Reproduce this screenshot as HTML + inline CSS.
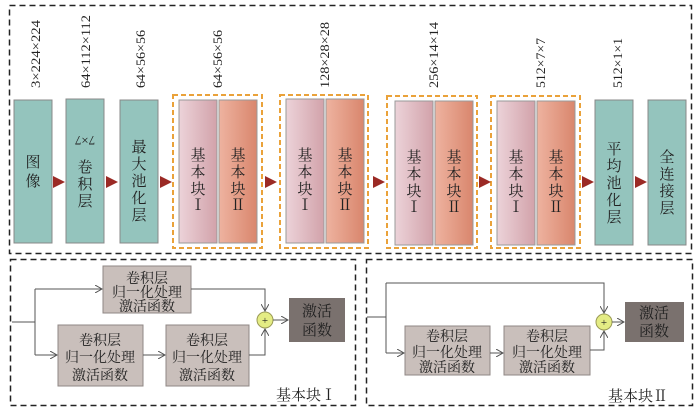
<!DOCTYPE html>
<html><head><meta charset="utf-8"><style>
body{margin:0;background:#fff;}
svg text{font-family:"Liberation Serif","Noto Serif CJK SC",serif;fill:#222;}
</style></head><body>
<svg width="700" height="412" viewBox="0 0 700 412" xmlns="http://www.w3.org/2000/svg">
<defs>
<linearGradient id="pk" x1="0" x2="1"><stop offset="0" stop-color="#ecd3d9"/><stop offset="1" stop-color="#d2a2aa"/></linearGradient>
<linearGradient id="or" x1="0" x2="1"><stop offset="0" stop-color="#eeb3a0"/><stop offset="1" stop-color="#d9866d"/></linearGradient>
<marker id="ah" markerWidth="8" markerHeight="8" refX="7" refY="4" orient="auto" markerUnits="userSpaceOnUse"><path d="M0,0 L7,4 L0,8" fill="none" stroke="#555" stroke-width="1"/></marker>
</defs>
<rect x="9.5" y="5.5" width="682" height="248" fill="none" stroke="#222" stroke-width="1.5" stroke-dasharray="6,4"/>
<rect x="10.5" y="259.5" width="345" height="146" fill="none" stroke="#222" stroke-width="1.5" stroke-dasharray="6,4"/>
<rect x="366.5" y="259.5" width="326" height="146" fill="none" stroke="#222" stroke-width="1.5" stroke-dasharray="6,4"/>
<g fill="#94c4bd" stroke="#888" stroke-width="1">
<rect x="14" y="100" width="38" height="143"/><rect x="66" y="99" width="38" height="144"/><rect x="120" y="100" width="38" height="143"/>
<rect x="595" y="100" width="38" height="145"/><rect x="648" y="100" width="38" height="145"/>
</g>
<g fill="none" stroke="#eaa23a" stroke-width="2" stroke-dasharray="5,3">
<rect x="173" y="95" width="89" height="153"/><rect x="280" y="95" width="88" height="153"/><rect x="387" y="96" width="90" height="152"/><rect x="491" y="96" width="89" height="152"/>
</g>
<g stroke="#999" stroke-width="1">
<rect x="179" y="100" width="38" height="143" fill="url(#pk)"/><rect x="219" y="100" width="38" height="143" fill="url(#or)"/>
<rect x="286" y="99" width="38" height="144" fill="url(#pk)"/><rect x="326" y="99" width="38" height="144" fill="url(#or)"/>
<rect x="395" y="101" width="38" height="144" fill="url(#pk)"/><rect x="435" y="101" width="38" height="144" fill="url(#or)"/>
<rect x="497" y="101" width="38" height="144" fill="url(#pk)"/><rect x="537" y="101" width="38" height="144" fill="url(#or)"/>
</g>
<g fill="#9b2a25">
<path d="M53,176 L65,182 L53,188Z"/><path d="M106,176 L118,182 L106,188Z"/><path d="M160,176 L172,182 L160,188Z"/><path d="M265,176 L277,182 L265,188Z"/><path d="M373,176 L385,182 L373,188Z"/><path d="M479,176 L491,182 L479,188Z"/><path d="M582,176 L594,182 L582,188Z"/><path d="M635,176 L647,182 L635,188Z"/>
</g>
<g font-size="15" text-anchor="middle">
<text x="33" y="167">图</text><text x="33" y="186">像</text>
<text x="85" y="144" transform="rotate(180 85 140)" font-size="13">7×7</text>
<text x="85" y="172">卷</text><text x="85" y="189">积</text><text x="85" y="206">层</text>
<text x="139" y="152">最</text><text x="139" y="169">大</text><text x="139" y="186">池</text><text x="139" y="203">化</text><text x="139" y="220">层</text>
<text x="614" y="154">平</text><text x="614" y="171">均</text><text x="614" y="188">池</text><text x="614" y="205">化</text><text x="614" y="222">层</text>
<text x="667" y="162">全</text><text x="667" y="179">连</text><text x="667" y="196">接</text><text x="667" y="213">层</text>
</g>
<g font-size="15" text-anchor="middle">
<g id="b1"><text x="198" y="160">基</text><text x="198" y="177">本</text><text x="198" y="194">块</text><text x="198" y="210">Ⅰ</text>
<text x="238" y="160">基</text><text x="238" y="177">本</text><text x="238" y="194">块</text><text x="238" y="210">Ⅱ</text></g>
<use href="#b1" x="107"/><use href="#b1" x="216" y="2"/><use href="#b1" x="318" y="2"/>
</g>
<g font-size="13" fill="#333" lengthAdjust="spacingAndGlyphs">
<text transform="translate(40,88) rotate(-90)" textLength="68" lengthAdjust="spacingAndGlyphs">3×224×224</text>
<text transform="translate(90,88) rotate(-90)" textLength="73" lengthAdjust="spacingAndGlyphs">64×112×112</text>
<text transform="translate(145,88) rotate(-90)" textLength="58" lengthAdjust="spacingAndGlyphs">64×56×56</text>
<text transform="translate(222,88) rotate(-90)" textLength="58" lengthAdjust="spacingAndGlyphs">64×56×56</text>
<text transform="translate(329,88) rotate(-90)" textLength="66" lengthAdjust="spacingAndGlyphs">128×28×28</text>
<text transform="translate(438,88) rotate(-90)" textLength="66" lengthAdjust="spacingAndGlyphs">256×14×14</text>
<text transform="translate(545,88) rotate(-90)" textLength="50" lengthAdjust="spacingAndGlyphs">512×7×7</text>
<text transform="translate(622,88) rotate(-90)" textLength="50" lengthAdjust="spacingAndGlyphs">512×1×1</text>
</g>
<g fill="#c9bfbb" stroke="#8f8784" stroke-width="1">
<rect x="103" y="266" width="88" height="47"/><rect x="58" y="325" width="85" height="61"/><rect x="166" y="325" width="83" height="61"/>
<rect x="405" y="326" width="85" height="49"/><rect x="504" y="326" width="86" height="49"/>
</g>
<rect x="289" y="298" width="56" height="44" fill="#7a716e"/>
<rect x="625" y="302" width="59" height="40" fill="#7a716e"/>
<g fill="#e4ec84" stroke="#9a9a55"><circle cx="265" cy="320" r="8"/><circle cx="604" cy="322" r="8"/></g>
<g font-size="11" text-anchor="middle" fill="#333"><text x="265" y="324">+</text><text x="604" y="326">+</text></g>
<g fill="none" stroke="#555" stroke-width="1">
<path d="M12,322 H35 M35,289 V355"/>
<path d="M35,289 H102" marker-end="url(#ah)"/><path d="M35,355 H57" marker-end="url(#ah)"/>
<path d="M143,355 H165" marker-end="url(#ah)"/>
<path d="M191,289 H265 V311" marker-end="url(#ah)"/><path d="M249,355 H265 V329" marker-end="url(#ah)"/>
<path d="M273,320 H288" marker-end="url(#ah)"/>
<path d="M367,317 H386 M386,283 V353"/>
<path d="M386,283 H604 V313" marker-end="url(#ah)"/><path d="M386,353 H404" marker-end="url(#ah)"/>
<path d="M490,353 H503" marker-end="url(#ah)"/><path d="M590,350 H604 V331" marker-end="url(#ah)"/>
<path d="M612,322 H624" marker-end="url(#ah)"/>
</g>
<g font-size="14" text-anchor="middle" fill="#333">
<text x="147" y="283">卷积层</text><text x="147" y="297">归一化处理</text><text x="147" y="311">激活函数</text>
<text x="100" y="345">卷积层</text><text x="100" y="362">归一化处理</text><text x="100" y="380">激活函数</text>
<text x="207" y="345">卷积层</text><text x="207" y="362">归一化处理</text><text x="207" y="380">激活函数</text>
<text x="447" y="341">卷积层</text><text x="447" y="357">归一化处理</text><text x="447" y="372">激活函数</text>
<text x="547" y="341">卷积层</text><text x="547" y="357">归一化处理</text><text x="547" y="372">激活函数</text>
<text x="317" y="316" fill="#eee" font-size="15">激活</text><text x="317" y="335" fill="#eee" font-size="15">函数</text>
<text x="654" y="318" fill="#eee" font-size="15">激活</text><text x="654" y="336" fill="#eee" font-size="15">函数</text>
<text x="306" y="400" font-size="15">基本块Ⅰ</text><text x="638" y="401" font-size="15">基本块Ⅱ</text>
</g>
</svg>
</body></html>
